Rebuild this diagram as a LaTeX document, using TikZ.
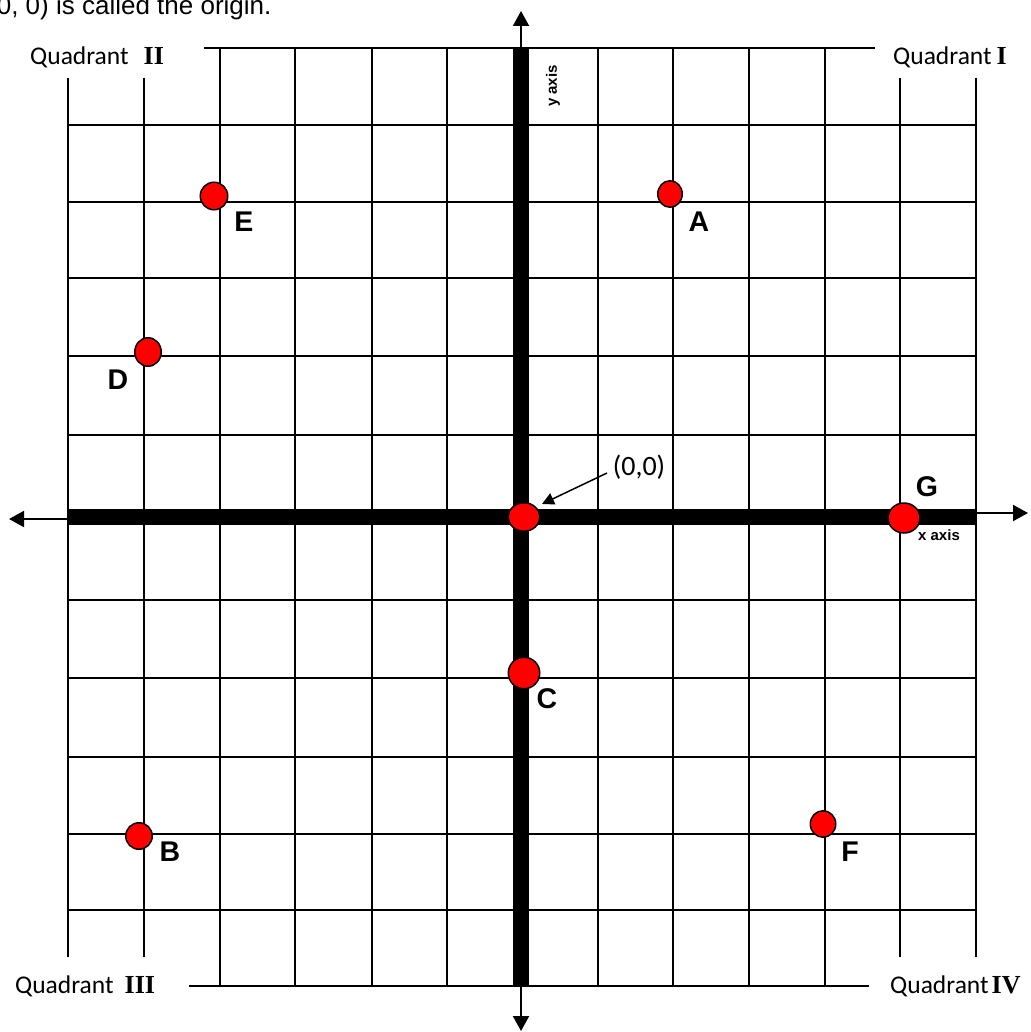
\documentclass[tikz,border=0pt]{standalone}
\usepackage{fontspec}
\setmainfont{Liberation Sans}
\newfontfamily\calib{Carlito}
\newfontfamily\serifnum{Liberation Serif}
\usetikzlibrary{arrows.meta,shapes.geometric}
\begin{document}
\begin{tikzpicture}[x=1pt,y=-1pt,
  gridline/.style={line width=2pt},
  axisline/.style={line width=16pt},
  axisarrow/.style={line width=2pt,-{Triangle[length=15pt,width=16pt]}},
  dot/.style={ellipse,draw=black,fill=red,line width=1.5pt,inner sep=0pt},
  ptlabel/.style={font=\fontsize{28.5}{29}\selectfont\bfseries,inner sep=0pt},
  axlabel/.style={font=\fontsize{15}{15}\selectfont\bfseries,inner sep=0pt},
  quad/.style={font=\calib\fontsize{25.5}{26}\selectfont,inner sep=0pt,anchor=base west}
]
\useasboundingbox (0,0) rectangle (1030,1032);

% caption (cut at the left edge, as in the reference)
\node[anchor=base west,font=\fontsize{26}{26}\selectfont,inner sep=0pt] (cap) at (-12,15) {(0, 0) is called the origin.};

% grid: full-width horizontal lines
\foreach \y in {125,201.7,278,355.7,435,600,678,757,834,910}
  \draw[gridline] (67.7,\y) -- (975.5,\y);
% top and bottom partial lines
\draw[gridline] (204,47.7) -- (875,47.7);
\draw[gridline] (189,985.7) -- (869,985.7);
% inner vertical lines
\foreach \x in {219.5,295,372,447,598,673,748.5,825}
  \draw[gridline] (\x,47.7) -- (\x,985.7);
% outer vertical lines
\foreach \x in {67.7,144,900,975.5}
  \draw[gridline] (\x,78) -- (\x,957);

% axes
\coordinate (ytop) at (521,47.7);
\coordinate (ybot) at (521,985.7);
\coordinate (xleft) at (67.7,517);
\coordinate (xright) at (976,517);
\draw[axisline] (ytop) -- (ybot);
\draw[axisline] (xleft) -- (xright);

% axis arrows
\coordinate (ytip) at (521,11);
\coordinate (ybtip) at (521,1031);
\coordinate (xrs) at (976,513);
\coordinate (xrtip) at (1028,513);
\coordinate (xls) at (68,519);
\coordinate (xltip) at (9,519);
\draw[axisarrow] (ytop) -- (ytip);
\draw[axisarrow] (ybot) -- (ybtip);
\draw[axisarrow] (xrs) -- (xrtip);
\draw[axisarrow] (xls) -- (xltip);

% axis labels
\node[axlabel] (xlab) at (939,535) {x axis};
\node[axlabel,rotate=90] (ylab) at (553,86) {y axis};

% points
\node[dot,minimum width=31.5pt,minimum height=28.5pt] (O) at (524,517) {};
\node[dot,minimum width=32pt,minimum height=30pt] (G) at (904,518) {};
\node[dot,minimum width=31.5pt,minimum height=31.5pt] (C) at (524,673) {};
\node[dot,minimum width=24.5pt,minimum height=26.5pt] (A) at (670,194) {};
\node[dot,minimum width=27.5pt,minimum height=27.5pt] (E) at (214,196) {};
\node[dot,minimum width=26.5pt,minimum height=28.5pt] (D) at (148,352) {};
\node[dot,minimum width=26.5pt,minimum height=26.5pt] (B) at (139,836) {};
\node[dot,minimum width=25.5pt,minimum height=26.5pt] (F) at (823,824) {};

% point labels
\node[ptlabel] (lA) at (699,222) {A};
\node[ptlabel] (lE) at (244,222) {E};
\node[ptlabel] (lD) at (118,380) {D};
\node[ptlabel] (lB) at (170,852) {B};
\node[ptlabel] (lF) at (850,852) {F};
\node[ptlabel] (lC) at (547,699) {C};
\node[ptlabel] (lG) at (927,487) {G};

% origin label and arrow
\node[font=\calib\fontsize{28}{28}\selectfont,inner sep=0pt] (zero) at (639,467) {(0,0)};
\coordinate (arrS) at (607,473);
\coordinate (arrE) at (542,504);
\draw[line width=1.5pt,-{Triangle[length=12pt,width=12pt]}] (arrS) -- (arrE);

% quadrant labels
\node[quad] (q2) at (30,65) {Quadrant\hspace{15pt}{\serifnum\bfseries\fontsize{26}{26}\selectfont II}};
\node[quad] (q1) at (893,65) {Quadrant\hspace{5pt}{\serifnum\bfseries\fontsize{26}{26}\selectfont I}};
\node[quad] (q3) at (15,993) {Quadrant\hspace{11pt}{\serifnum\bfseries\fontsize{26}{26}\selectfont III}};
\node[quad] (q4) at (890,993) {Quadrant\hspace{3pt}{\serifnum\bfseries\fontsize{26}{26}\selectfont IV}};
\end{tikzpicture}
\end{document}
